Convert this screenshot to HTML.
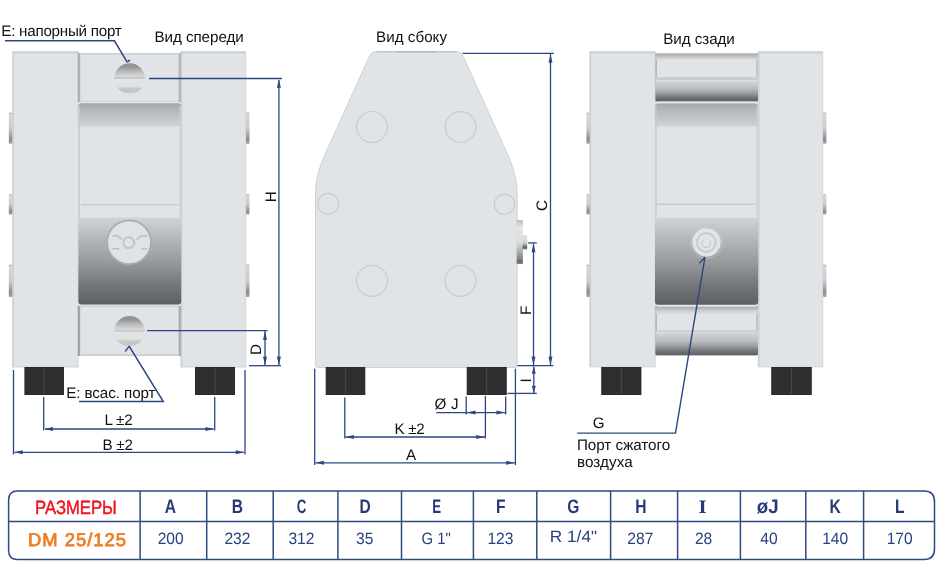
<!DOCTYPE html>
<html><head><meta charset="utf-8"><title>DM 25/125</title>
<style>
html,body{margin:0;padding:0;background:#fff;width:943px;height:577px;overflow:hidden}
svg{display:block;will-change:transform}
text{font-family:"Liberation Sans",sans-serif;text-rendering:geometricPrecision}
</style></head><body>
<svg width="943" height="577" viewBox="0 0 943 577">
<defs>
<linearGradient id="bumpL" x1="0" y1="0" x2="0" y2="1">
<stop offset="0" stop-color="#b4b6b8"/><stop offset="0.08" stop-color="#d6d8da"/><stop offset="0.5" stop-color="#c9cbcd"/><stop offset="0.85" stop-color="#8c8e90"/><stop offset="1" stop-color="#a0a2a4"/></linearGradient>
<linearGradient id="bumpR" x1="0" y1="0" x2="0" y2="1">
<stop offset="0" stop-color="#b4b6b8"/><stop offset="0.08" stop-color="#d6d8da"/><stop offset="0.5" stop-color="#c9cbcd"/><stop offset="0.85" stop-color="#8c8e90"/><stop offset="1" stop-color="#a0a2a4"/></linearGradient>
<linearGradient id="portG" x1="0" y1="0" x2="0" y2="1">
<stop offset="0" stop-color="#8f9193"/><stop offset="0.12" stop-color="#939597"/><stop offset="0.25" stop-color="#b3b5b7"/>
<stop offset="0.4" stop-color="#d0d2d4"/><stop offset="0.45" stop-color="#d6d8da"/><stop offset="0.46" stop-color="#c3c5c7"/><stop offset="0.5" stop-color="#c8cacc"/><stop offset="0.52" stop-color="#e1e3e5"/>
<stop offset="0.76" stop-color="#dfe1e3"/><stop offset="0.82" stop-color="#c8cacc"/><stop offset="0.92" stop-color="#c2c4c6"/><stop offset="1" stop-color="#d6d8da"/></linearGradient>
<linearGradient id="chamberG" x1="0" y1="0" x2="0" y2="1">
<stop offset="0" stop-color="#a3a6a9"/><stop offset="0.012" stop-color="#acafb2"/><stop offset="0.05" stop-color="#bbbec1"/><stop offset="0.113" stop-color="#d0d3d6"/><stop offset="0.117" stop-color="#e0e4e7"/>
<stop offset="0.565" stop-color="#e0e4e7"/><stop offset="0.57" stop-color="#d0d3d6"/><stop offset="0.66" stop-color="#b8bbbe"/>
<stop offset="0.78" stop-color="#9a9da0"/><stop offset="0.9" stop-color="#74787c"/><stop offset="1" stop-color="#5c6064"/></linearGradient>
<linearGradient id="cylG" x1="0" y1="0" x2="0" y2="1">
<stop offset="0" stop-color="#d2d4d6"/><stop offset="0.35" stop-color="#bcbec0"/><stop offset="0.6" stop-color="#9a9da0"/><stop offset="0.8" stop-color="#74777b"/><stop offset="1" stop-color="#5a5e62"/></linearGradient>
<linearGradient id="cylG2" x1="0" y1="0" x2="0" y2="1">
<stop offset="0" stop-color="#a9abad"/><stop offset="0.2" stop-color="#cfd1d3"/><stop offset="0.5" stop-color="#e0e3e6"/><stop offset="1" stop-color="#e0e3e6"/></linearGradient>
<linearGradient id="fitG" x1="0" y1="0" x2="0" y2="1">
<stop offset="0" stop-color="#b4b6b8"/><stop offset="0.08" stop-color="#d0d2d4"/><stop offset="0.15" stop-color="#e2e4e6"/><stop offset="0.5" stop-color="#dcdee0"/><stop offset="0.75" stop-color="#a4a6a8"/><stop offset="0.95" stop-color="#696b6d"/><stop offset="1" stop-color="#8a8c8e"/></linearGradient>
<linearGradient id="fitG2" x1="0" y1="0" x2="0" y2="1">
<stop offset="0" stop-color="#c8cacc"/><stop offset="0.15" stop-color="#e0e2e4"/><stop offset="0.55" stop-color="#c8cacc"/><stop offset="0.85" stop-color="#5e6062"/><stop offset="1" stop-color="#8a8c8e"/></linearGradient>
<linearGradient id="topEdgeG" x1="0" y1="0" x2="0" y2="1">
<stop offset="0" stop-color="#a9abad"/><stop offset="0.3" stop-color="#b5b7b9"/><stop offset="0.6" stop-color="#c6c8ca"/><stop offset="1" stop-color="#d8dadc"/></linearGradient>
<linearGradient id="botEdgeG" x1="0" y1="0" x2="0" y2="1">
<stop offset="0" stop-color="#a8aaac"/><stop offset="0.5" stop-color="#c8cacc"/><stop offset="1" stop-color="#dadcde"/></linearGradient>
</defs>
<rect x="12.0" y="51.0" width="66.8" height="316.6" fill="#d9dce0" />
<rect x="12.8" y="51.8" width="65.2" height="315.0" fill="#cdd0d3" />
<rect x="14.0" y="53.5" width="63.8" height="313.1" fill="#e0e4e7" />
<rect x="180.3" y="51.0" width="65.9" height="316.6" fill="#d9dce0" />
<rect x="181.1" y="51.8" width="64.3" height="315.0" fill="#cdd0d3" />
<rect x="182.3" y="53.5" width="62.9" height="313.1" fill="#e0e4e7" />
<rect x="8.8" y="112.5" width="3.5" height="31.3" fill="url(#bumpL)" rx="1"/>
<rect x="8.8" y="194.0" width="3.5" height="20.5" fill="url(#bumpL)" rx="1"/>
<rect x="8.8" y="264.6" width="3.5" height="32.4" fill="url(#bumpL)" rx="1"/>
<rect x="246.0" y="112.5" width="3.5" height="31.3" fill="url(#bumpR)" rx="1"/>
<rect x="246.0" y="194.0" width="3.5" height="20.5" fill="url(#bumpR)" rx="1"/>
<rect x="246.0" y="264.6" width="3.5" height="32.4" fill="url(#bumpR)" rx="1"/>
<rect x="79.0" y="53.0" width="101.0" height="303.0" fill="#e0e4e7" />
<rect x="77.8" y="53.0" width="2.6" height="49.0" fill="#a9abad" />
<rect x="178.4" y="53.0" width="2.4" height="49.0" fill="#b0b2b4" />
<rect x="79.8" y="53.0" width="99.0" height="48.3" fill="#cdd0d3" />
<rect x="80.6" y="54.6" width="97.6" height="46.0" fill="#e0e4e7" />
<circle cx="129.6" cy="78.5" r="15.3" fill="url(#portG)"/>
<rect x="78.3" y="103.3" width="102.9" height="201.3" fill="url(#chamberG)" rx="3"/>
<rect x="78.6" y="106.0" width="1.4" height="111.0" fill="#c6c9cc" />
<rect x="179.6" y="106.0" width="1.4" height="111.0" fill="#cbced1" />
<rect x="81.0" y="204.0" width="97.6" height="1.5" fill="#c9ccce" />
<circle cx="129.1" cy="242.2" r="21.9" fill="#e0e3e6" stroke="#aaacae" stroke-width="1.7"/>
<circle cx="128.8" cy="242.6" r="5.4" fill="none" stroke="#c2c4c6" stroke-width="2"/>
<path d="M112.2,235.8 H117.4 L122,239.6 M147.5,235.8 H141.3 L136.6,239.6 M112.2,248.8 H119.4 M141.3,248.8 H147.5" fill="none" stroke="#bdbfc1" stroke-width="1.5"/>
<rect x="77.8" y="306.0" width="2.6" height="50.0" fill="#9a9c9e" />
<rect x="178.4" y="306.0" width="2.4" height="50.0" fill="#a4a6a8" />
<rect x="79.8" y="305.6" width="99.0" height="50.3" fill="#cdd0d3" />
<rect x="80.6" y="307.0" width="97.6" height="47.2" fill="#e0e4e7" />
<circle cx="129.5" cy="331.3" r="15.2" fill="url(#portG)"/>
<rect x="24.4" y="367.0" width="39.6" height="28.0" fill="#2b2b2b" />
<rect x="25.4" y="368.0" width="37.6" height="26.0" fill="#2f2f2f" />
<rect x="43.6" y="368.0" width="1.2" height="26.0" fill="#474747" />
<rect x="195.0" y="367.0" width="40.0" height="28.0" fill="#2b2b2b" />
<rect x="196.0" y="368.0" width="38.0" height="26.0" fill="#2f2f2f" />
<rect x="214.4" y="368.0" width="1.2" height="26.0" fill="#474747" />
<text x="1.34" y="36.00" font-size="15.2" fill="#111"  letter-spacing="-0.258">E: напорный порт</text>
<text x="154.40" y="42.00" font-size="15.2" fill="#111"  letter-spacing="-0.050">Вид спереди</text>
<text x="66.20" y="398.00" font-size="15.2" fill="#111"  letter-spacing="-0.075">E: всас. порт</text>
<text x="104.40" y="425.00" font-size="15.2" fill="#111"  letter-spacing="-0.200">L ±2</text>
<text x="102.40" y="449.50" font-size="15.2" fill="#111"  letter-spacing="-0.200">B ±2</text>
<text transform="translate(276.1,202.3) rotate(-90)" font-size="15.2" fill="#111">H</text>
<text transform="translate(261,355) rotate(-90)" font-size="15.2" fill="#111">D</text>
<polyline points="5,40.8 114.4,40.8 127.2,62.2" fill="none" stroke="#2c4681" stroke-width="1.5"/>
<polyline points="127.2,62.2 130,59.9" fill="none" stroke="#2c4681" stroke-width="1.4"/>
<polyline points="129.1,346.1 163.3,401.6 79,401.6" fill="none" stroke="#2c4681" stroke-width="1.5"/>
<polyline points="125.2,351.5 129.1,346.1" fill="none" stroke="#2c4681" stroke-width="1.4"/>
<line x1="149.0" y1="78.5" x2="282.0" y2="78.5" stroke="#2c4681" stroke-width="1.30"/>
<line x1="278.9" y1="80.0" x2="278.9" y2="365.0" stroke="#2c4681" stroke-width="1.30"/>
<polygon points="278.9,79.2 276.9,88.0 278.9,87.6 280.9,88.0" fill="#2c4681"/>
<polygon points="278.9,365.2 276.9,356.4 278.9,356.8 280.9,356.4" fill="#2c4681"/>
<line x1="147.0" y1="330.6" x2="267.6" y2="330.6" stroke="#2c4681" stroke-width="1.30"/>
<line x1="265.0" y1="331.0" x2="265.0" y2="365.0" stroke="#2c4681" stroke-width="1.30"/>
<polygon points="265.0,331.3 263.0,340.1 265.0,339.7 267.0,340.1" fill="#2c4681"/>
<polygon points="265.0,365.2 263.0,356.4 265.0,356.8 267.0,356.4" fill="#2c4681"/>
<line x1="249.0" y1="365.7" x2="281.0" y2="365.7" stroke="#2c4681" stroke-width="1.30"/>
<line x1="43.7" y1="397.0" x2="43.7" y2="430.5" stroke="#2c4681" stroke-width="1.30"/>
<line x1="214.7" y1="397.0" x2="214.7" y2="430.5" stroke="#2c4681" stroke-width="1.30"/>
<line x1="45.0" y1="429.0" x2="213.5" y2="429.0" stroke="#2c4681" stroke-width="1.30"/>
<polygon points="44.3,429.0 53.1,427.0 52.7,429.0 53.1,431.0" fill="#2c4681"/>
<polygon points="214.1,429.0 205.3,427.0 205.7,429.0 205.3,431.0" fill="#2c4681"/>
<line x1="13.5" y1="370.0" x2="13.5" y2="454.5" stroke="#2c4681" stroke-width="1.30"/>
<line x1="245.0" y1="370.0" x2="245.0" y2="454.5" stroke="#2c4681" stroke-width="1.30"/>
<line x1="14.5" y1="452.3" x2="244.0" y2="452.3" stroke="#2c4681" stroke-width="1.30"/>
<polygon points="14.1,452.3 22.9,450.3 22.5,452.3 22.9,454.3" fill="#2c4681"/>
<polygon points="244.4,452.3 235.6,450.3 236.0,452.3 235.6,454.3" fill="#2c4681"/>
<path d="M375.8,51.5 L456.8,51.5 Q460.8,51.5 463.1,56.0 L504.3,147.0 C509.9,159.0 517.1,175.0 517.1,192.0 L517.1,365.5 Q517.1,367.5 515.1,367.5 L317.5,367.5 Q315.5,367.5 315.5,365.5 L315.5,192.0 C315.5,175.0 322.7,159.0 328.3,147.0 L369.5,56.0 Q371.8,51.5 375.8,51.5 Z" fill="#e0e4e7" stroke="#cfd2d5" stroke-width="1"/>
<line x1="376.3" y1="51.9" x2="456.3" y2="51.9" stroke="#c3c6c9" stroke-width="1.20"/>
<line x1="396.3" y1="51.9" x2="436.3" y2="51.9" stroke="#b0b3b6" stroke-width="1.40"/>
<circle cx="372.0" cy="127.0" r="15.5" fill="none" stroke="#c9cccf" stroke-width="1.2"/>
<circle cx="460.6" cy="127.0" r="15.3" fill="none" stroke="#c9cccf" stroke-width="1.2"/>
<circle cx="328.3" cy="203.8" r="10.4" fill="none" stroke="#c9cccf" stroke-width="1.2"/>
<circle cx="504.5" cy="204.3" r="10.2" fill="none" stroke="#c9cccf" stroke-width="1.2"/>
<circle cx="372.0" cy="280.8" r="15.5" fill="none" stroke="#c9cccf" stroke-width="1.2"/>
<circle cx="460.4" cy="280.8" r="15.5" fill="none" stroke="#c9cccf" stroke-width="1.2"/>
<rect x="516.7" y="220.2" width="6.2" height="43.9" fill="url(#fitG)" />
<rect x="522.6" y="235.5" width="4.6" height="13.9" fill="url(#fitG2)" />
<rect x="325.7" y="367.0" width="39.6" height="28.0" fill="#2b2b2b" />
<rect x="326.7" y="368.0" width="37.6" height="26.0" fill="#2f2f2f" />
<rect x="344.9" y="368.0" width="1.2" height="26.0" fill="#474747" />
<rect x="466.7" y="367.0" width="40.1" height="28.0" fill="#2b2b2b" />
<rect x="467.7" y="368.0" width="38.1" height="26.0" fill="#2f2f2f" />
<rect x="486.1" y="368.0" width="1.2" height="26.0" fill="#474747" />
<text x="376.00" y="42.00" font-size="15.2" fill="#111"  letter-spacing="0.025">Вид сбоку</text>
<text transform="translate(547,211) rotate(-90)" font-size="15.2" fill="#111">C</text>
<text transform="translate(530.6,315) rotate(-90)" font-size="15.2" fill="#111">F</text>
<text transform="translate(530.6,382.6) rotate(-90)" font-size="15.2" fill="#111">I</text>
<text x="434.60" y="409.30" font-size="15.2" fill="#111"  letter-spacing="0.200">Ø J</text>
<text x="394.40" y="434.00" font-size="15.2" fill="#111"  letter-spacing="-0.267">K ±2</text>
<text x="406.00" y="460.00" font-size="15.2" fill="#111" >A</text>
<line x1="462.6" y1="53.3" x2="553.8" y2="53.3" stroke="#2c4681" stroke-width="1.30"/>
<line x1="550.5" y1="54.0" x2="550.5" y2="365.0" stroke="#2c4681" stroke-width="1.30"/>
<polygon points="550.5,54.0 548.5,62.8 550.5,62.4 552.5,62.8" fill="#2c4681"/>
<polygon points="550.5,365.2 548.5,356.4 550.5,356.8 552.5,356.4" fill="#2c4681"/>
<line x1="527.9" y1="242.9" x2="536.8" y2="242.9" stroke="#2c4681" stroke-width="1.30"/>
<line x1="533.5" y1="243.5" x2="533.5" y2="365.0" stroke="#2c4681" stroke-width="1.30"/>
<polygon points="533.5,243.6 531.5,252.4 533.5,252.0 535.5,252.4" fill="#2c4681"/>
<polygon points="533.5,365.2 531.5,356.4 533.5,356.8 535.5,356.4" fill="#2c4681"/>
<line x1="517.3" y1="365.7" x2="553.4" y2="365.7" stroke="#2c4681" stroke-width="1.30"/>
<line x1="533.8" y1="366.5" x2="533.8" y2="393.0" stroke="#2c4681" stroke-width="1.30"/>
<polygon points="533.8,366.3 531.8,373.8 533.8,373.4 535.8,373.8" fill="#2c4681"/>
<polygon points="533.8,393.2 531.8,385.7 533.8,386.1 535.8,385.7" fill="#2c4681"/>
<line x1="507.5" y1="393.4" x2="536.8" y2="393.4" stroke="#2c4681" stroke-width="1.30"/>
<line x1="466.2" y1="396.4" x2="466.2" y2="414.4" stroke="#2c4681" stroke-width="1.30"/>
<line x1="505.7" y1="396.4" x2="505.7" y2="414.4" stroke="#2c4681" stroke-width="1.30"/>
<line x1="436.2" y1="412.6" x2="505.0" y2="412.6" stroke="#2c4681" stroke-width="1.30"/>
<polygon points="466.8,412.6 475.6,410.6 475.2,412.6 475.6,414.6" fill="#2c4681"/>
<polygon points="505.1,412.6 496.3,410.6 496.7,412.6 496.3,414.6" fill="#2c4681"/>
<line x1="344.8" y1="397.4" x2="344.8" y2="438.5" stroke="#2c4681" stroke-width="1.30"/>
<line x1="485.4" y1="396.0" x2="485.4" y2="438.5" stroke="#2c4681" stroke-width="1.30"/>
<line x1="345.5" y1="437.0" x2="485.0" y2="437.0" stroke="#2c4681" stroke-width="1.30"/>
<polygon points="345.4,437.0 354.2,435.0 353.8,437.0 354.2,439.0" fill="#2c4681"/>
<polygon points="484.8,437.0 476.0,435.0 476.4,437.0 476.0,439.0" fill="#2c4681"/>
<line x1="314.7" y1="368.8" x2="314.7" y2="465.0" stroke="#2c4681" stroke-width="1.30"/>
<line x1="515.4" y1="368.8" x2="515.4" y2="465.0" stroke="#2c4681" stroke-width="1.30"/>
<line x1="315.5" y1="462.8" x2="514.8" y2="462.8" stroke="#2c4681" stroke-width="1.30"/>
<polygon points="315.3,462.8 324.1,460.8 323.7,462.8 324.1,464.8" fill="#2c4681"/>
<polygon points="514.8,462.8 506.0,460.8 506.4,462.8 506.0,464.8" fill="#2c4681"/>
<rect x="655.0" y="53.0" width="103.5" height="303.0" fill="#e0e4e7" />
<rect x="589.2" y="51.0" width="66.6" height="316.4" fill="#d9dce0" />
<rect x="590.0" y="51.8" width="65.0" height="314.8" fill="#cdd0d3" />
<rect x="591.2" y="53.5" width="63.6" height="312.9" fill="#e0e4e7" />
<rect x="757.6" y="51.0" width="65.7" height="316.4" fill="#d9dce0" />
<rect x="758.4" y="51.8" width="64.1" height="314.8" fill="#cdd0d3" />
<rect x="759.6" y="53.5" width="62.7" height="312.9" fill="#e0e4e7" />
<rect x="586.4" y="112.5" width="3.4" height="31.3" fill="url(#bumpL)" rx="1"/>
<rect x="586.4" y="194.0" width="3.4" height="20.5" fill="url(#bumpL)" rx="1"/>
<rect x="586.4" y="264.6" width="3.4" height="32.4" fill="url(#bumpL)" rx="1"/>
<rect x="823.0" y="112.5" width="3.4" height="31.3" fill="url(#bumpR)" rx="1"/>
<rect x="823.0" y="194.0" width="3.4" height="20.5" fill="url(#bumpR)" rx="1"/>
<rect x="823.0" y="264.6" width="3.4" height="32.4" fill="url(#bumpR)" rx="1"/>
<rect x="655.2" y="53.0" width="1.8" height="49.0" fill="#b5b7b9" />
<rect x="756.2" y="53.0" width="1.8" height="49.0" fill="#c0c2c4" />
<rect x="655.2" y="306.0" width="1.8" height="49.0" fill="#b5b7b9" />
<rect x="756.2" y="306.0" width="1.8" height="49.0" fill="#c0c2c4" />
<rect x="655.5" y="53.5" width="102.5" height="6.0" fill="url(#topEdgeG)" />
<rect x="655.5" y="77.1" width="102.5" height="3.1" fill="#c9cbcd" />
<rect x="655.5" y="80.2" width="102.5" height="1.1" fill="#dcdee0" />
<rect x="655.5" y="81.3" width="102.5" height="19.9" fill="url(#cylG)" rx="1.5"/>
<rect x="655.0" y="103.4" width="103.2" height="201.4" fill="url(#chamberG)" rx="3"/>
<rect x="655.3" y="106.0" width="1.4" height="111.0" fill="#c6c9cc" />
<rect x="756.5" y="106.0" width="1.4" height="111.0" fill="#cbced1" />
<rect x="657.0" y="203.5" width="99.0" height="1.5" fill="#c9ccce" />
<circle cx="706.5" cy="242.5" r="14.2" fill="#e1e4e7"/>
<circle cx="706.5" cy="242.5" r="16" fill="none" stroke="#c8cacc" stroke-width="1" opacity="0.6"/>
<circle cx="706.3" cy="242.5" r="9.3" fill="none" stroke="#c6c8ca" stroke-width="1.8"/>
<path d="M709.5,240.5 A4.3,4.3 0 1 1 704,239.4" fill="none" stroke="#c9cbcd" stroke-width="1.2"/>
<rect x="655.5" y="306.8" width="102.5" height="6.8" fill="url(#botEdgeG)" />
<rect x="655.5" y="330.2" width="102.5" height="1.6" fill="#c9cbcd" />
<rect x="655.5" y="331.8" width="102.5" height="1.0" fill="#dcdee0" />
<rect x="655.5" y="332.8" width="102.5" height="22.4" fill="url(#cylG)" rx="1.5"/>
<rect x="601.2" y="367.0" width="40.2" height="28.0" fill="#2b2b2b" />
<rect x="602.2" y="368.0" width="38.2" height="26.0" fill="#2f2f2f" />
<rect x="620.7" y="368.0" width="1.2" height="26.0" fill="#474747" />
<rect x="771.2" y="367.0" width="40.6" height="28.0" fill="#2b2b2b" />
<rect x="772.2" y="368.0" width="38.6" height="26.0" fill="#2f2f2f" />
<rect x="790.9" y="368.0" width="1.2" height="26.0" fill="#474747" />
<text x="663.20" y="44.00" font-size="15.2" fill="#111"  letter-spacing="-0.050">Вид сзади</text>
<text x="592.80" y="427.80" font-size="15.2" fill="#111" >G</text>
<text x="577.00" y="449.80" font-size="15.2" fill="#111"  letter-spacing="-0.045">Порт сжатого</text>
<text x="577.00" y="466.80" font-size="15.2" fill="#111"  letter-spacing="0.083">воздуха</text>
<polyline points="577.2,433.1 675.5,433.1 704.9,257.6" fill="none" stroke="#2c4681" stroke-width="1.4"/>
<polyline points="699.4,263.4 704.9,257.3" fill="none" stroke="#2c4681" stroke-width="1.4"/>
<path d="M17.6,490.9 H924.0 Q934.5,490.9 934.5,501.4 V549.0 Q934.5,559.5 924.0,559.5 H17.6 Q8.6,559.5 8.6,550.5 V499.9 Q8.6,490.9 17.6,490.9 Z" fill="none" stroke="#2f4a82" stroke-width="1.5"/>
<line x1="8.6" y1="521.6" x2="934.5" y2="521.6" stroke="#2f4a82" stroke-width="1.50"/>
<line x1="140.1" y1="490.9" x2="140.1" y2="559.5" stroke="#2f4a82" stroke-width="1.50"/>
<line x1="206.7" y1="490.9" x2="206.7" y2="559.5" stroke="#2f4a82" stroke-width="1.50"/>
<line x1="273.2" y1="490.9" x2="273.2" y2="559.5" stroke="#2f4a82" stroke-width="1.50"/>
<line x1="337.9" y1="490.9" x2="337.9" y2="559.5" stroke="#2f4a82" stroke-width="1.50"/>
<line x1="401.5" y1="490.9" x2="401.5" y2="559.5" stroke="#2f4a82" stroke-width="1.50"/>
<line x1="473.4" y1="490.9" x2="473.4" y2="559.5" stroke="#2f4a82" stroke-width="1.50"/>
<line x1="536.8" y1="490.9" x2="536.8" y2="559.5" stroke="#2f4a82" stroke-width="1.50"/>
<line x1="610.6" y1="490.9" x2="610.6" y2="559.5" stroke="#2f4a82" stroke-width="1.50"/>
<line x1="677.6" y1="490.9" x2="677.6" y2="559.5" stroke="#2f4a82" stroke-width="1.50"/>
<line x1="740.4" y1="490.9" x2="740.4" y2="559.5" stroke="#2f4a82" stroke-width="1.50"/>
<line x1="805.8" y1="490.9" x2="805.8" y2="559.5" stroke="#2f4a82" stroke-width="1.50"/>
<line x1="863.6" y1="490.9" x2="863.6" y2="559.5" stroke="#2f4a82" stroke-width="1.50"/>
<text transform="translate(75.90,513.60) scale(0.865,1)" text-anchor="middle" font-size="19.3" font-weight="400" fill="#f0101c" stroke="#f0101c" stroke-width="0.45">РАЗМЕРЫ</text>
<text transform="translate(77.50,545.60) scale(1.000,1)" text-anchor="middle" font-size="18.4" font-weight="400" fill="#ee7e22" stroke="#ee7e22" stroke-width="0.80" letter-spacing="1.00">DM 25/125</text>
<text transform="translate(170.45,512.70) scale(0.800,1)" text-anchor="middle" font-size="19.5" font-weight="700" fill="#253a76">A</text>
<text transform="translate(237.30,512.70) scale(0.800,1)" text-anchor="middle" font-size="19.5" font-weight="700" fill="#253a76">B</text>
<text transform="translate(301.60,512.70) scale(0.680,1)" text-anchor="middle" font-size="19.5" font-weight="700" fill="#253a76">C</text>
<text transform="translate(365.15,512.70) scale(0.800,1)" text-anchor="middle" font-size="19.5" font-weight="700" fill="#253a76">D</text>
<text transform="translate(436.75,512.70) scale(0.680,1)" text-anchor="middle" font-size="19.5" font-weight="700" fill="#253a76">E</text>
<text transform="translate(500.80,512.70) scale(0.800,1)" text-anchor="middle" font-size="19.5" font-weight="700" fill="#253a76">F</text>
<text transform="translate(573.20,512.70) scale(0.800,1)" text-anchor="middle" font-size="19.5" font-weight="700" fill="#253a76">G</text>
<text transform="translate(640.95,512.70) scale(0.800,1)" text-anchor="middle" font-size="19.5" font-weight="700" fill="#253a76">H</text>
<text transform="translate(702.60,512.7) scale(1.1,1)" text-anchor="middle" font-family="Liberation Serif" font-size="19" font-weight="700" fill="#253a76" style="font-family:'Liberation Serif',serif">I</text>
<text transform="translate(767.75,512.70) scale(0.960,1)" text-anchor="middle" font-size="19.5" font-weight="700" fill="#253a76">øJ</text>
<text transform="translate(835.20,512.70) scale(0.800,1)" text-anchor="middle" font-size="19.5" font-weight="700" fill="#253a76">K</text>
<text transform="translate(899.65,512.70) scale(0.800,1)" text-anchor="middle" font-size="19.5" font-weight="700" fill="#253a76">L</text>
<text transform="translate(170.70,544.00) scale(0.945,1)" text-anchor="middle" font-size="16.5" font-weight="400" fill="#29417e">200</text>
<text transform="translate(237.40,544.00) scale(0.945,1)" text-anchor="middle" font-size="16.5" font-weight="400" fill="#29417e">232</text>
<text transform="translate(301.40,544.00) scale(0.945,1)" text-anchor="middle" font-size="16.5" font-weight="400" fill="#29417e">312</text>
<text transform="translate(364.75,544.00) scale(0.945,1)" text-anchor="middle" font-size="16.5" font-weight="400" fill="#29417e">35</text>
<text transform="translate(436.20,543.60) scale(0.905,1)" text-anchor="middle" font-size="16.5" font-weight="400" fill="#29417e">G 1"</text>
<text transform="translate(500.45,544.00) scale(0.945,1)" text-anchor="middle" font-size="16.5" font-weight="400" fill="#29417e">123</text>
<text transform="translate(573.45,541.90) scale(1.045,1)" text-anchor="middle" font-size="16.5" font-weight="400" fill="#29417e">R 1/4"</text>
<text transform="translate(640.30,544.00) scale(0.945,1)" text-anchor="middle" font-size="16.5" font-weight="400" fill="#29417e">287</text>
<text transform="translate(703.55,544.00) scale(0.945,1)" text-anchor="middle" font-size="16.5" font-weight="400" fill="#29417e">28</text>
<text transform="translate(768.90,544.00) scale(0.945,1)" text-anchor="middle" font-size="16.5" font-weight="400" fill="#29417e">40</text>
<text transform="translate(835.20,544.00) scale(0.945,1)" text-anchor="middle" font-size="16.5" font-weight="400" fill="#29417e">140</text>
<text transform="translate(899.65,544.00) scale(0.945,1)" text-anchor="middle" font-size="16.5" font-weight="400" fill="#29417e">170</text>
</svg>
</body></html>
